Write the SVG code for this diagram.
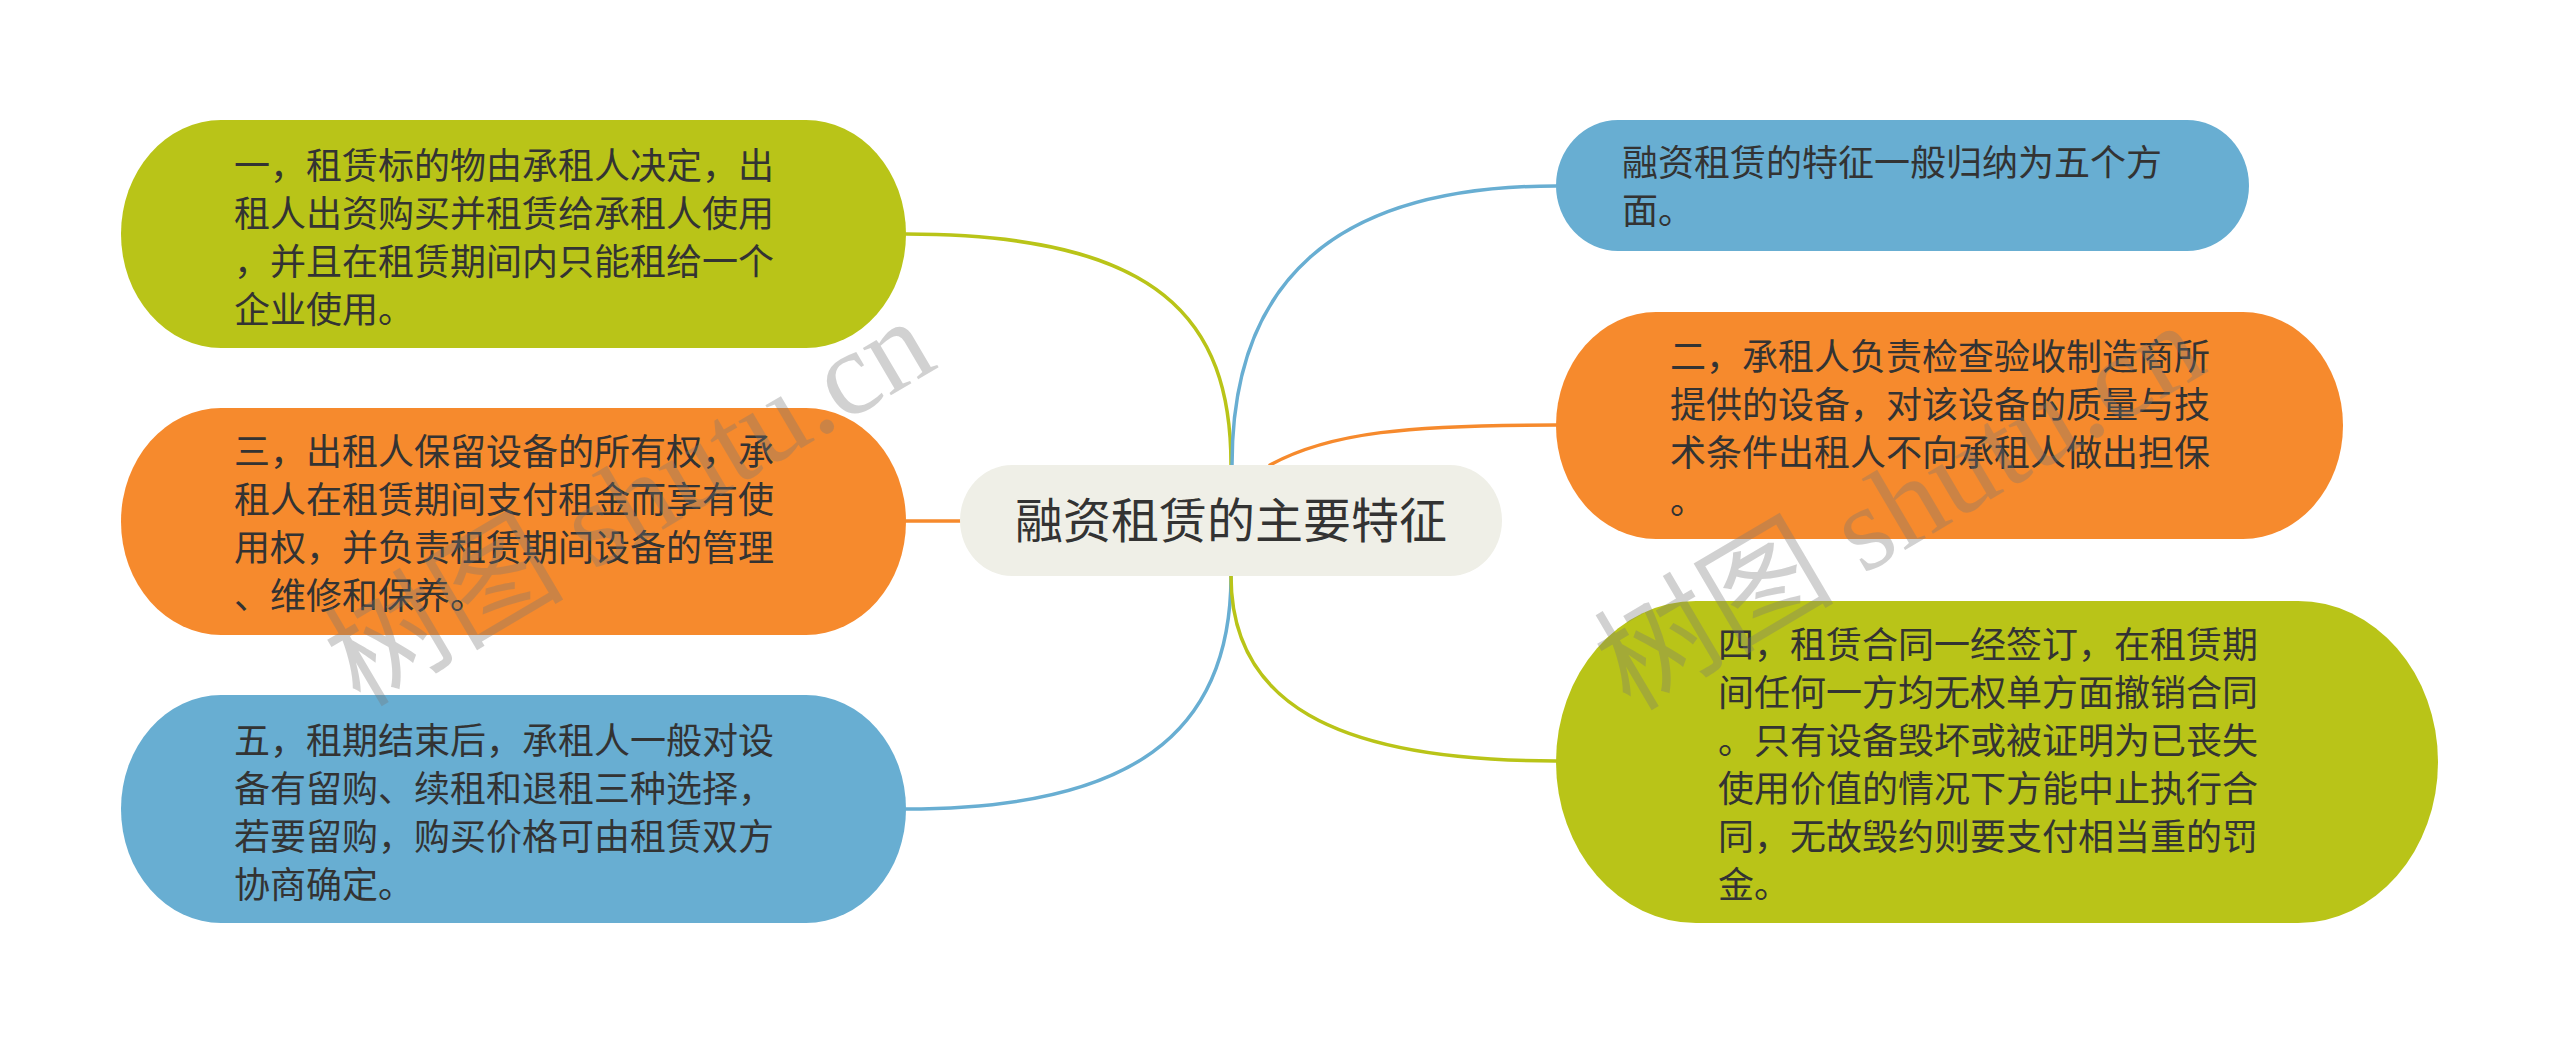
<svg xmlns="http://www.w3.org/2000/svg" width="2560" height="1044" viewBox="0 0 2560 1044">
<style>
.t{font-family:"Noto Sans CJK SC","Noto Sans",sans-serif;font-size:36px;fill:#333333}
.c{font-family:"Noto Sans CJK SC","Noto Sans",sans-serif;font-size:48px;fill:#333333}
.g{fill:#b9c418}
.o{fill:#f68a2d}
.b{fill:#68aed2}
.conn path{fill:none;stroke-width:3.5;stroke-linecap:round}
.wm{font-family:"Liberation Serif","Noto Sans CJK SC",serif;font-size:120px;fill:#777777;opacity:0.33}
</style>
<rect width="2560" height="1044" fill="#ffffff"/>
<g id="connectors" class="conn">
<path d="M1231 465 C1231 320 1160 234 906 234" stroke="#b9c418"/>
<path d="M906 521 L960 521" stroke="#f68a2d"/>
<path d="M1231 576 C1231 735 1130 809 906 809" stroke="#68aed2"/>
<path d="M1232 465 C1232 285 1330 186 1556 186" stroke="#68aed2"/>
<path d="M1270 465 C1330 432 1410 425 1556 425" stroke="#f68a2d"/>
<path d="M1231 576 C1231 700 1330 761 1556 761" stroke="#b9c418"/>
</g>
<g id="center">
<rect x="960" y="465" width="542" height="111" rx="52" ry="55.5" fill="#efefe7"/>
<text class="c" x="1231" y="538" text-anchor="middle">融资租赁的主要特征</text>
</g>
<g id="node1">
<rect class="g" x="121" y="120" width="785" height="228" rx="100" ry="114"/>
<text class="t" x="234"><tspan x="234" y="179">一，租赁标的物由承租人决定，出</tspan><tspan x="234" y="227">租人出资购买并租赁给承租人使用</tspan><tspan x="234" y="275">，并且在租赁期间内只能租给一个</tspan><tspan x="234" y="323">企业使用。</tspan></text>
</g>
<g id="node3">
<rect class="o" x="121" y="408" width="785" height="227" rx="100" ry="113.5"/>
<text class="t"><tspan x="234" y="465">三，出租人保留设备的所有权，承</tspan><tspan x="234" y="513">租人在租赁期间支付租金而享有使</tspan><tspan x="234" y="561">用权，并负责租赁期间设备的管理</tspan><tspan x="234" y="609">、维修和保养。</tspan></text>
</g>
<g id="node5">
<rect class="b" x="121" y="695" width="785" height="228" rx="100" ry="114"/>
<text class="t"><tspan x="234" y="754">五，租期结束后，承租人一般对设</tspan><tspan x="234" y="802">备有留购、续租和退租三种选择，</tspan><tspan x="234" y="850">若要留购，购买价格可由租赁双方</tspan><tspan x="234" y="898">协商确定。</tspan></text>
</g>
<g id="nodeR1">
<rect class="b" x="1556" y="120" width="693" height="131" rx="62" ry="65.5"/>
<text class="t"><tspan x="1622" y="176">融资租赁的特征一般归纳为五个方</tspan><tspan x="1622" y="224">面。</tspan></text>
</g>
<g id="nodeR2">
<rect class="o" x="1556" y="312" width="787" height="227" rx="100" ry="113.5"/>
<text class="t"><tspan x="1670" y="370">二，承租人负责检查验收制造商所</tspan><tspan x="1670" y="418">提供的设备，对该设备的质量与技</tspan><tspan x="1670" y="466">术条件出租人不向承租人做出担保</tspan><tspan x="1670" y="514">。</tspan></text>
</g>
<g id="nodeR4">
<rect class="g" x="1556" y="601" width="882" height="322" rx="140" ry="161"/>
<text class="t"><tspan x="1718" y="658">四，租赁合同一经签订，在租赁期</tspan><tspan x="1718" y="706">间任何一方均无权单方面撤销合同</tspan><tspan x="1718" y="754">。只有设备毁坏或被证明为已丧失</tspan><tspan x="1718" y="802">使用价值的情况下方能中止执行合</tspan><tspan x="1718" y="850">同，无故毁约则要支付相当重的罚</tspan><tspan x="1718" y="898">金。</tspan></text>
</g>
<g id="watermark">
<text class="wm" transform="translate(360 708) rotate(-30.5)">树图 shutu.cn</text>
<text class="wm" transform="translate(1630 712) rotate(-30.5)">树图 shutu.cn</text>
</g>
</svg>
